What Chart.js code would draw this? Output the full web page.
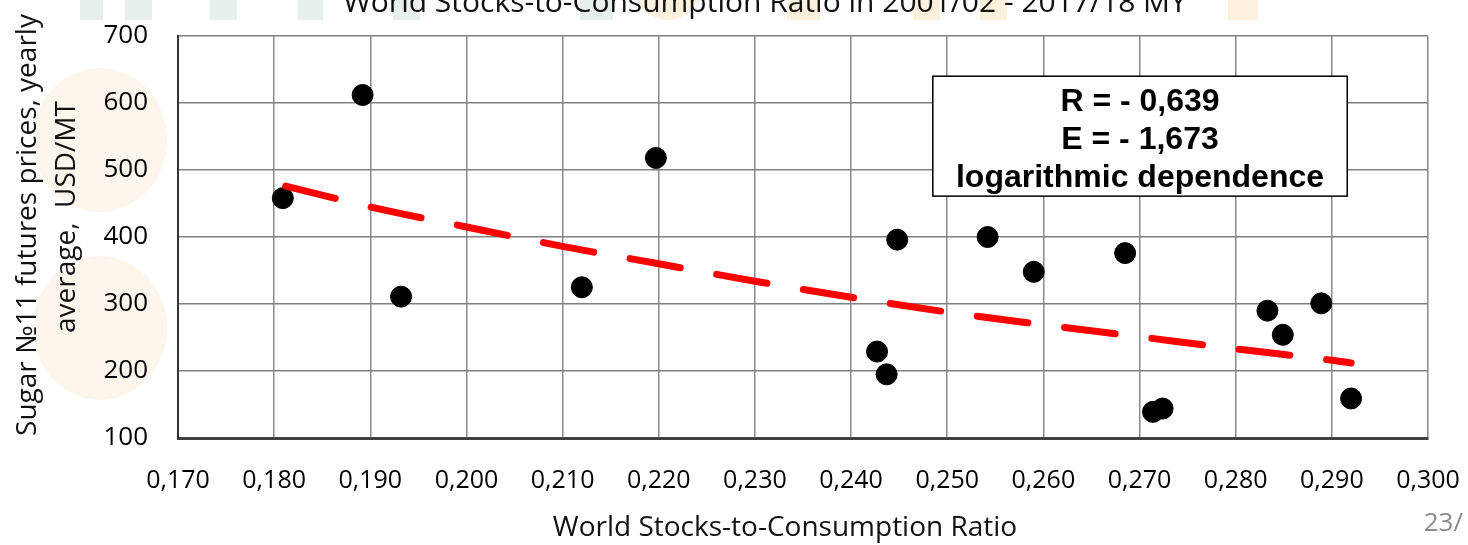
<!DOCTYPE html>
<html>
<head>
<meta charset="utf-8">
<script src="https://cdn.jsdelivr.net/npm/chart.js@4.4.1/dist/chart.umd.min.js"></script>
<style>
  html, body { margin: 0; padding: 0; background: #fff; }
  #wrap { width: 1468px; height: 545px; }
</style>
</head>
<body>
<div id="wrap"><canvas id="myChart" width="1468" height="545"></canvas></div>
<script>
// World stocks-to-consumption ratio vs Sugar No11 price, 2001/02 - 2017/18 MY
const stocksRatio = [0.1809, 0.1892, 0.1932, 0.2120, 0.2197, 0.2427, 0.2437, 0.2448, 0.2542,
                     0.2590, 0.2685, 0.2714, 0.2724, 0.2833, 0.2849, 0.2889, 0.2920];
const sugarPrice = [458, 612, 311, 325, 518, 229, 195, 396, 400,
                    348, 376, 139, 144, 290, 254, 301, 159];

// logarithmic trend line
const trendX = [0.1812, 0.190, 0.200, 0.210, 0.220, 0.230, 0.240, 0.250, 0.260, 0.270, 0.280, 0.290, 0.292];
const trendY = [476, 445, 415, 386, 360, 334, 310, 288, 269, 251, 233, 216, 212];

const statLines = ['R = - 0,639', 'E = - 1,673', 'logarithmic dependence'];
const chartTitle = 'World Stocks-to-Consumption Ratio in 2001/02 - 2017/18 MY';
const xTitle = 'World Stocks-to-Consumption Ratio';
const yTitle = ['Sugar №11 futures prices, yearly', 'average,  USD/MT'];
const pageNo = '23/';

const FONT = "'Open Sans', 'Noto Sans', sans-serif";

// faint logo watermark behind the chart
const watermark = {
  id: 'watermark',
  beforeDraw(chart) {
    const c = chart.ctx;
    c.save();
    c.fillStyle = '#fdf6ec';
    c.beginPath(); c.ellipse(100, 140, 67, 72, 0, 0, Math.PI * 2); c.fill();
    c.beginPath(); c.ellipse(100, 328, 67, 72, 0, 0, Math.PI * 2); c.fill();
    c.fillStyle = '#e7f0ea';
    [[80, 23], [125, 27], [210, 27], [298, 25], [393, 27], [580, 33]].forEach(b => c.fillRect(b[0], 0, b[1], 20));
    c.fillStyle = '#fdf1de';
    c.beginPath(); c.ellipse(668, -30, 40, 50, 0, 0, Math.PI * 2); c.fill();
    [[787, 33], [913, 27], [980, 27], [1228, 30]].forEach(b => c.fillRect(b[0], 0, b[1], 20));
    // white plot area
    const a = chart.chartArea;
    c.fillStyle = '#ffffff';
    c.fillRect(a.left, a.top, a.right - a.left, a.bottom - a.top);
    c.restore();
  }
};

const labels = {
  id: 'labels',
  afterDraw(chart) {
    const c = chart.ctx;
    const xs = chart.scales.x, ys = chart.scales.y;
    c.save();
    // title, cut at top edge
    c.fillStyle = '#111';
    c.font = '30px ' + FONT;
    c.textAlign = 'center';
    c.textBaseline = 'alphabetic';
    c.fillText(chartTitle, 765, 12);
    // x axis title
    c.font = '28px ' + FONT;
    c.textBaseline = 'middle';
    c.fillText(xTitle, 785, 528);
    // y axis title, two rotated lines
    c.save();
    c.translate(28, 225);
    c.rotate(-Math.PI / 2);
    c.fillText(yTitle[0], 0, 0);
    c.restore();
    c.save();
    c.translate(67, 217);
    c.rotate(-Math.PI / 2);
    c.fillText(yTitle[1], 0, 0);
    c.restore();
    // page number
    c.fillStyle = '#8c8c8c';
    c.font = '26px ' + FONT;
    c.textAlign = 'right';
    c.fillText(pageNo, 1463, 524);
    // statistics box
    const bl = xs.getPixelForValue(0.2485), br = xs.getPixelForValue(0.2916);
    const bt = ys.getPixelForValue(640), bb = ys.getPixelForValue(461);
    c.fillStyle = '#fff';
    c.fillRect(bl, bt, br - bl, bb - bt);
    c.strokeStyle = '#000';
    c.lineWidth = 1.5;
    c.strokeRect(bl, bt, br - bl, bb - bt);
    c.fillStyle = '#000';
    c.font = "bold 32px 'Liberation Sans', Arial, sans-serif";
    c.textAlign = 'center';
    c.textBaseline = 'middle';
    statLines.forEach((t, i) => c.fillText(t, (bl + br) / 2, bt + 26 + i * 38));
    c.restore();
  }
};

const ctx = document.getElementById('myChart');
const myChart = new Chart(ctx, {
  type: 'scatter',
  data: {
    datasets: [{
      label: 'prices',
      data: stocksRatio.map((x, i) => ({ x: x, y: sugarPrice[i] })),
      backgroundColor: '#000',
      borderColor: '#000',
      pointRadius: 10.5,
      pointHoverRadius: 10.5,
      order: 1
    }, {
      type: 'line',
      label: 'trend',
      data: trendX.map((x, i) => ({ x: x, y: trendY[i] })),
      borderColor: '#ff0000',
      borderWidth: 7,
      borderDash: [51, 37],
      borderCapStyle: 'round',
      cubicInterpolationMode: 'monotone',
      pointRadius: 0,
      fill: false,
      order: 0
    }]
  },
  options: {
    responsive: false,
    animation: false,
    events: [],
    layout: { padding: { top: 36, right: 40, left: 0, bottom: 0 }, autoPadding: false },
    plugins: {
      legend: { display: false },
      tooltip: { enabled: false },
      title: { display: false }
    },
    scales: {
      x: {
        type: 'linear',
        min: 0.17,
        max: 0.30,
        afterFit: s => {
          s.height = 107;
          s.paddingLeft = 0; s.paddingRight = 0;
        },
        ticks: {
          stepSize: 0.01,
          padding: 28,
          color: '#000',
          font: { family: FONT, size: 25 },
          callback: v => v.toFixed(3).replace('.', ',')
        },
        grid: { color: '#8a8a8a', lineWidth: 1.5, drawTicks: false },
        border: { color: '#404040', width: 3 }
      },
      y: {
        min: 100,
        max: 700,
        afterFit: s => {
          s.width = 178;
          s.paddingTop = 0; s.paddingBottom = 0;
        },
        ticks: {
          stepSize: 100,
          padding: 30,
          color: '#000',
          font: { family: FONT, size: 26 }
        },
        grid: { color: '#808080', lineWidth: 1.5, drawTicks: false },
        border: { color: '#333', width: 2 }
      }
    }
  },
  plugins: [watermark, labels]
});
</script>
</body>
</html>
